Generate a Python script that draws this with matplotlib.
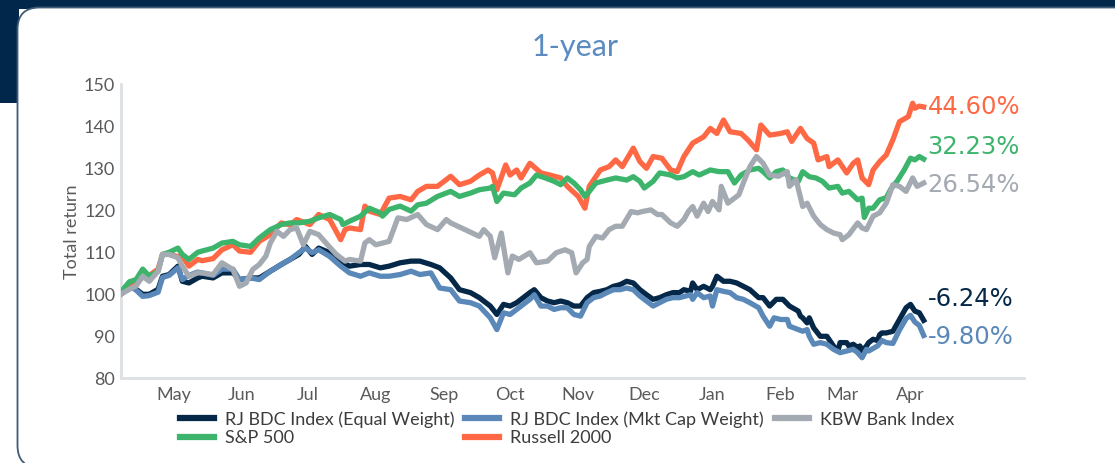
import matplotlib
matplotlib.use('Agg')
import matplotlib.pyplot as plt
from matplotlib.patches import Rectangle, FancyBboxPatch
import pandas as pd

plt.rcParams['font.family'] = ['Lato', 'DejaVu Sans']

# ---- data (days after start date, index level) ----
start_date = '2022-04-07'
month_ticks = pd.date_range('2022-05-01', '2023-04-01', freq='MS')

eq_days = [0, 4, 7, 10, 13, 17, 19, 22, 26, 28, 31, 35, 37, 42, 46, 51, 54, 59, 63, 68, 73, 77, 81, 84, 87, 90, 95,
           100, 104, 109, 113, 118, 122, 127, 132, 136, 141, 145, 150, 154, 159, 163, 168, 171, 174, 177, 180, 183,
           186, 188, 191, 194, 197, 200, 203, 206, 209, 212, 215, 218, 221, 224, 227, 230, 233, 236, 239, 242, 245,
           248, 251, 254, 256, 259, 260, 262, 265, 268, 269, 271, 274, 277, 280, 283, 286, 290, 292, 295, 298, 301,
           304, 308, 309, 310, 312, 313, 315, 318, 321, 324, 326, 327, 330, 331, 333, 335, 336, 337, 339, 340, 342,
           344, 345, 346, 348, 351, 354, 357, 359, 361, 363, 365]
eq_vals = [100, 101.9, 101.2, 100, 100, 101.2, 104.3, 104.7, 106.7, 103.1, 102.7, 103.9, 104.3, 103.9, 105.1, 105.1,
           103.5, 103.9, 103.9, 105.5, 107.1, 108.3, 109.5, 111.4, 109.5, 111, 109.9, 107.9, 106.7, 107.1, 107.1,
           106.3, 106.7, 107.5, 107.9, 107.9, 107.1, 106.3, 103.9, 101.1, 100.4, 99.2, 97.2, 95.2, 97.6, 97.2, 98,
           99.2, 100.4, 101.1, 99.2, 98.4, 98, 98.4, 98, 97.2, 97.2, 99.2, 100.4, 100.7, 101.1, 101.9, 102.3, 103.1,
           102.7, 101.1, 99.9, 98.8, 99.2, 99.9, 100.4, 100.4, 101.1, 100.7, 102.7, 101.1, 101.9, 101.1, 101.9, 104.3,
           103.1, 103.1, 102.7, 101.9, 101.1, 99.2, 99.2, 97.2, 98.8, 98.8, 97.2, 96, 94.8, 94.4, 93.2, 94.4, 92, 90,
           90, 87.7, 86.5, 88.5, 88.5, 87.7, 88.1, 87.3, 87.7, 86.5, 87.7, 88.5, 89.3, 89, 90.4, 90.8, 90.8, 91.2, 94,
           96.8, 97.6, 96, 95.6, 93.8]

mc_days = [0, 4, 7, 10, 13, 17, 19, 22, 26, 28, 31, 35, 37, 42, 46, 51, 54, 59, 63, 68, 73, 77, 81, 84, 87, 90, 95,
           100, 104, 109, 113, 118, 122, 127, 132, 136, 141, 145, 150, 154, 159, 163, 168, 171, 174, 177, 180, 183,
           186, 188, 191, 194, 197, 200, 203, 206, 209, 212, 215, 218, 221, 224, 227, 230, 233, 236, 239, 242, 245,
           248, 251, 254, 259, 260, 262, 265, 268, 269, 271, 274, 277, 280, 283, 286, 290, 292, 295, 297, 300, 303,
           304, 308, 310, 312, 313, 315, 318, 321, 324, 327, 330, 333, 335, 337, 339, 340, 342, 344, 346, 348, 351,
           354, 357, 359, 361, 363, 365]
mc_vals = [100, 102, 101, 99.5, 99.7, 100.5, 104, 104.5, 106.3, 103.5, 104.5, 105.3, 105.1, 104.5, 106, 106, 103.5,
           103.9, 103.5, 105.5, 107.1, 108.3, 109.9, 111, 109.9, 110.6, 109, 106.7, 105.1, 104.3, 105.1, 104.3, 104.3,
           104.7, 105.5, 104.7, 105.1, 101.5, 101.1, 98.4, 98, 97.2, 94.4, 91.6, 95.6, 95.2, 96.4, 97.6, 98.8, 99.9,
           97.2, 97.2, 96.4, 96.8, 96.8, 95.2, 94.8, 98, 99.2, 99.6, 100.4, 101.1, 101.1, 101.5, 101.1, 99.6, 98.4,
           97.2, 98, 98.8, 99.2, 99.2, 99.9, 98.8, 100.4, 99.2, 99.6, 97.2, 101.1, 100.7, 100.4, 99.2, 98.8, 98, 96.8,
           94.8, 92.4, 94.4, 94, 94, 92.4, 91.6, 91.2, 91.6, 90, 88.1, 88.5, 88.1, 86.9, 86.1, 86.5, 86.9, 86.1, 84.9,
           86.9, 86.5, 87.1, 87.7, 89, 88.5, 88.3, 91.5, 94.2, 95, 93.4, 92.6, 90.2]

kbw_days = [0, 4, 7, 10, 13, 17, 19, 22, 26, 28, 31, 35, 37, 42, 46, 51, 54, 57, 60, 63, 66, 68, 71, 74, 77, 80, 83,
            86, 90, 94, 98, 102, 104, 109, 111, 113, 116, 122, 126, 130, 135, 139, 144, 148, 150, 163, 165, 168, 170,
            173, 176, 178, 181, 186, 189, 194, 198, 202, 205, 207, 210, 212, 213, 216, 219, 222, 225, 228, 232, 235,
            237, 241, 244, 246, 250, 253, 256, 258, 260, 262, 265, 267, 269, 272, 273, 276, 278, 281, 283, 286, 289,
            292, 295, 299, 303, 304, 307, 310, 312, 315, 318, 321, 324, 327, 328, 331, 335, 337, 339, 342, 345, 348,
            351, 354, 357, 360, 362, 365]
kbw_vals = [100, 101.2, 102, 104.3, 103.1, 105.5, 109.5, 109.5, 108.7, 106.7, 104.3, 105.1, 105.1, 104.7, 107.5,
            105.9, 101.9, 102.7, 105.9, 107.1, 109.1, 112.2, 115, 113.8, 115.4, 115.8, 111.8, 115, 114.2, 111.8, 109.5,
            107.9, 108.3, 107.9, 112.2, 113, 111.8, 112.6, 118.2, 117.8, 119, 116.6, 115.4, 117.8, 117, 113.8, 115.4,
            113.8, 108.7, 114.6, 105.1, 109.1, 108.3, 109.9, 107.5, 107.9, 109.9, 110.6, 109.9, 105.1, 107.5, 108.3,
            111.4, 113.8, 113.4, 115.4, 116.2, 116.2, 119.7, 119.4, 119.7, 120.1, 119, 119, 117, 116.2, 117.8, 119.7,
            120.9, 118.6, 121.7, 119.7, 122.1, 120.1, 125.7, 121.7, 122.5, 123.7, 126.5, 130.4, 132.8, 131.2, 128.4,
            128.1, 129.2, 125.7, 127.3, 120.9, 121.7, 118.6, 116.6, 115.4, 114.6, 114.2, 113, 114.2, 117, 115.8, 115.4,
            118.6, 119.4, 121.7, 126.1, 125.7, 124.5, 127.7, 125.7, 126.5]

spx_days = [0, 4, 7, 10, 13, 17, 19, 22, 26, 28, 31, 35, 37, 42, 46, 51, 54, 59, 63, 68, 73, 77, 81, 86, 90, 95, 100,
            101, 104, 109, 113, 118, 119, 122, 127, 132, 135, 139, 144, 150, 154, 159, 163, 168, 169, 171, 174, 179,
            182, 186, 189, 193, 197, 200, 203, 206, 209, 211, 213, 216, 221, 225, 230, 233, 236, 238, 242, 245, 250,
            253, 256, 260, 263, 268, 272, 276, 279, 282, 286, 290, 292, 295, 298, 301, 304, 308, 310, 313, 316, 319,
            322, 326, 328, 331, 335, 337, 338, 340, 342, 345, 348, 350, 353, 356, 359, 361, 363, 365]
spx_vals = [100.5, 103, 103.5, 106, 104.3, 105.5, 109.5, 110, 111, 109.5, 108.3, 110, 110.3, 111, 112.2, 112.6,
            111.8, 111.4, 113.4, 115.4, 116.6, 117, 117, 117.4, 118.2, 119, 117.8, 116.6, 117.4, 118.6, 120.5, 119.4,
            118.6, 120.2, 121, 119.8, 121.3, 121.7, 123.3, 124.5, 123.3, 124.1, 124.9, 125.3, 125.7, 122.1, 124.1,
            123.7, 125.3, 126.5, 128.4, 127.7, 126.9, 126.1, 127.7, 126.5, 124.9, 123.3, 124.5, 126.5, 127.2, 127.7,
            127.2, 128, 126.9, 125.3, 126.9, 128.9, 128.4, 127.7, 128, 129.2, 128.4, 129.6, 129.2, 129.2, 126.5, 128.4,
            129.6, 130, 129.2, 127.7, 129.2, 129.6, 127.7, 126.9, 129.2, 128, 127.7, 126.9, 125.3, 125.7, 124.1, 124.5,
            122.5, 122.9, 118.3, 120.5, 120.5, 122.5, 123, 125, 127, 129.5, 132.4, 132, 132.8, 132.2]

rut_days = [0, 4, 7, 10, 13, 17, 19, 22, 26, 28, 31, 35, 37, 42, 46, 51, 54, 59, 63, 68, 73, 77, 80, 86, 90, 95, 100,
            102, 104, 109, 111, 113, 118, 122, 127, 132, 135, 139, 144, 150, 154, 159, 163, 167, 169, 171, 175, 177,
            180, 182, 186, 191, 195, 200, 203, 208, 211, 213, 218, 222, 225, 228, 233, 236, 239, 242, 246, 250, 253,
            256, 260, 265, 268, 271, 274, 277, 282, 285, 289, 291, 295, 300, 303, 305, 309, 312, 315, 317, 321, 322,
            326, 330, 333, 335, 337, 340, 342, 345, 348, 351, 354, 358, 360, 361, 363, 365]
rut_vals = [100, 102, 103, 104, 104.5, 106, 109.5, 109.5, 109, 109.1, 106.7, 108.3, 108, 108.5, 110.6, 111.8, 110.3,
            110, 112.6, 114.2, 117, 116.5, 117.8, 116.6, 119, 117.8, 113, 115.4, 115.8, 115.4, 121, 119.8, 119, 122.9,
            123.3, 122.5, 124.5, 125.7, 125.7, 128.1, 126.1, 126.9, 128.4, 129.6, 128.9, 124.9, 130.8, 128.4, 129.6,
            127.7, 131.2, 128.9, 128.4, 127.7, 125.7, 123.3, 120.5, 125.7, 129.6, 130.4, 132, 130.4, 134.8, 131.6, 130,
            132.8, 132.4, 129.6, 129.2, 132.8, 136, 137.5, 139.5, 138.3, 141.5, 138.7, 138.3, 136.8, 134.4, 140.3,
            137.9, 138.3, 138.7, 136.4, 139.5, 137.1, 136, 132, 132.8, 130.4, 132, 128.9, 131.2, 132, 127.7, 126.1,
            129.6, 131.6, 133.2, 136.8, 141.1, 142.3, 145.5, 144.3, 144.8, 144.6]

series_names = ['RJ BDC Index (Equal Weight)', 'RJ BDC Index (Mkt Cap Weight)', 'KBW Bank Index',
                'S&P 500', 'Russell 2000']
end_returns = ['-6.24%', '-9.80%', '26.54%', '32.23%', '44.60%']

colors = ['#052848', '#5a88b8', '#a4aab2', '#3db46c', '#ff6844']
label_y = [99.0, 89.8, 126.1, 135.1, 144.6]
draw_order = [1, 2, 5, 4, 3]

all_days = [eq_days, mc_days, kbw_days, spx_days, rut_days]
all_vals = [eq_vals, mc_vals, kbw_vals, spx_vals, rut_vals]

t0 = pd.Timestamp(start_date)

fig = plt.figure(figsize=(11.15, 4.63), dpi=100)

# background frame
bg = fig.add_axes([0, 0, 1, 1], zorder=-5)
bg.set_xlim(0, 1115)
bg.set_ylim(463, 0)
bg.axis('off')
navy = '#01284a'
bg.add_patch(Rectangle((0, 0), 1115, 9, color=navy, lw=0))
bg.add_patch(Rectangle((0, 0), 19, 103, color=navy, lw=0))
bg.add_patch(FancyBboxPatch((17.5, 7.5), 1160, 460, boxstyle='round,pad=0,rounding_size=22',
                            facecolor='white', edgecolor='#3e5b78', lw=1.3))

ax = fig.add_axes([120.7 / 1115, 1 - 378.3 / 463, (1024 - 120.7) / 1115, 294 / 463])
ax.patch.set_alpha(0)

lines = []
for i in range(5):
    dates = t0 + pd.to_timedelta(all_days[i], unit='D')
    ln, = ax.plot(dates, all_vals[i], color=colors[i], lw=3.8, label=series_names[i],
                  zorder=draw_order[i], solid_joinstyle='round')
    lines.append(ln)
    ax.text(t0 + pd.Timedelta(days=366.8), label_y[i], end_returns[i], color=colors[i],
            fontsize=17.5, va='center', ha='left', family=['DejaVu Sans'])

ax.set_xlim(t0, t0 + pd.Timedelta(days=410.6))
ax.set_ylim(80, 150)
ax.set_yticks(range(80, 151, 10))
ax.set_xticks(month_ticks)
ax.set_xticklabels([d.strftime('%b') for d in month_ticks])
ax.tick_params(length=0, labelsize=13, colors='#5a5a5a', pad=6)
ax.tick_params(axis='y', pad=4)
for s in ['top', 'right']:
    ax.spines[s].set_visible(False)
for s in ['left', 'bottom']:
    ax.spines[s].set_color('#dde0e4')
    ax.spines[s].set_linewidth(2)
ax.set_ylabel('Total return', fontsize=13, color='#5a5a5a', labelpad=3)

fig.text(575 / 1115, 1 - 47 / 463, '1-year', fontsize=22, color='#5b8bc0', ha='center', va='center')

order = [0, 3, 1, 4, 2]
leg = fig.legend([lines[k] for k in order], [series_names[k] for k in order], ncol=3, frameon=False,
                 loc='upper center', bbox_to_anchor=(567 / 1115, 1 - 411 / 463), fontsize=13,
                 handlelength=1.9, handletextpad=0.6, columnspacing=0.6, labelspacing=0.15,
                 borderaxespad=0, borderpad=0)
for t in leg.get_texts():
    t.set_color('#3c3c3c')
for h in leg.legend_handles:
    h.set_linewidth(4.5)

fig.savefig('out.png', dpi=100)
